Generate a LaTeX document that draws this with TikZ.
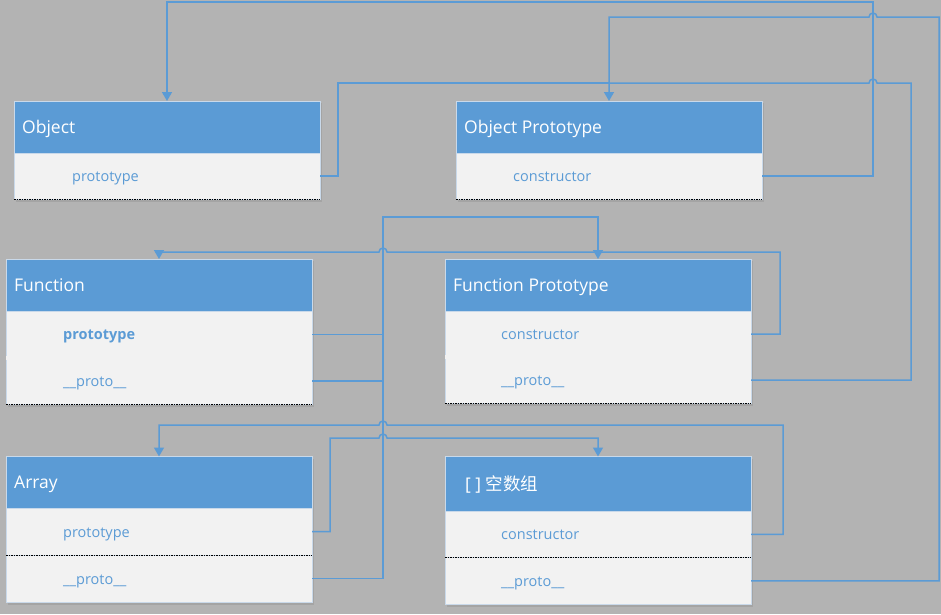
\documentclass[tikz,border=0pt]{standalone}
\usepackage{fontspec}
\setmainfont{Open Sans}
\newfontfamily\cjk{Noto Sans CJK SC}
\usetikzlibrary{arrows.meta}
\definecolor{bg}{HTML}{B3B3B3}
\definecolor{hdrblue}{HTML}{5B9BD5}
\definecolor{bodyfill}{HTML}{F2F2F2}
\definecolor{edge}{HTML}{C9D9EA}
\definecolor{linkblue}{HTML}{5B9BD5}
\begin{document}
\begin{tikzpicture}[x=1pt,y=-1pt,
 hdr/.style={draw=edge, line width=0.6pt, fill=hdrblue, anchor=north west, minimum width=306pt, inner sep=0pt, outer sep=0pt},
 row/.style={draw=edge, line width=0.6pt, fill=bodyfill, anchor=north west, minimum width=306pt, inner sep=0pt, outer sep=0pt},
 htxt/.style={anchor=base west, text=white, font=\fontsize{17.5}{20}\selectfont, inner sep=0pt},
 rtxt/.style={anchor=base west, text=linkblue, font=\fontsize{14.5}{17}\selectfont, inner sep=0pt},
 conn/.style={draw=linkblue, line width=1.5pt, -{Triangle[width=10pt,length=9pt]}},
 link/.style={draw=linkblue, line width=1.5pt},
 sepline/.style={draw=black, line width=0.8pt, dash pattern=on 1.5pt off 1pt},
 shadowbox/.style={fill=black, opacity=0.08}
]
\fill[bg] (0,0) rectangle (941,614);
\useasboundingbox (0,0) rectangle (941,614);

% shadows
\fill[shadowbox] (16,103) rectangle (322,202);
\fill[shadowbox] (458,103) rectangle (764,202);
\fill[shadowbox] (8,261) rectangle (314,407);
\fill[shadowbox] (447,261) rectangle (753,406);
\fill[shadowbox] (8,459) rectangle (314,605);
\fill[shadowbox] (447,459) rectangle (753,607);

% Object
\node[hdr, minimum height=52pt] (obj) at (14,101) {};
\node[row, minimum height=46pt] (objR1) at (14,153) {};
\draw[sepline] (objR1.south west) -- (objR1.south east);
\node[htxt] (objT) at ([xshift=8pt,yshift=-6.3pt]obj.west) {Object};
\node[rtxt] (objR1t) at ([xshift=58pt,yshift=-5.7pt]objR1.west) {prototype};

% Object Prototype
\node[hdr, minimum height=52pt] (op) at (456,101) {};
\node[row, minimum height=46pt] (opR1) at (456,153) {};
\draw[sepline] (opR1.south west) -- (opR1.south east);
\node[htxt] (opT) at ([xshift=8pt,yshift=-6.3pt]op.west) {Object Prototype};
\node[rtxt] (opR1t) at ([xshift=57pt,yshift=-5.7pt]opR1.west) {constructor};

% Function
\node[hdr, minimum height=52pt] (fn) at (6,259) {};
\node[row, minimum height=46.5pt] (fnR1) at (6,311) {};
\node[row, minimum height=46.5pt] (fnR2) at (6,357.5) {};
\fill[bodyfill] ([xshift=0.4pt,yshift=2pt]fnR1.south west) rectangle ([xshift=-0.4pt,yshift=-2pt]fnR1.south east);
\draw[sepline] (fnR2.south west) -- (fnR2.south east);
\node[htxt] (fnT) at ([xshift=8pt,yshift=-6.3pt]fn.west) {Function};
\node[rtxt, font=\fontsize{14.5}{17}\selectfont\bfseries] (fnR1t) at ([xshift=57pt,yshift=-5.7pt]fnR1.west) {prototype};
\node[rtxt] (fnR2t) at ([xshift=57pt,yshift=-5.7pt]fnR2.west) {\_\_proto\_\_};

% Function Prototype
\node[hdr, minimum height=52pt] (fp) at (445,259) {};
\node[row, minimum height=46pt] (fpR1) at (445,311) {};
\node[row, minimum height=46pt] (fpR2) at (445,357) {};
\fill[bodyfill] ([xshift=0.4pt,yshift=2pt]fpR1.south west) rectangle ([xshift=-0.4pt,yshift=-2pt]fpR1.south east);
\draw[sepline] (fpR2.south west) -- (fpR2.south east);
\node[htxt] (fpT) at ([xshift=8pt,yshift=-6.3pt]fp.west) {Function Prototype};
\node[rtxt] (fpR1t) at ([xshift=56pt,yshift=-5.7pt]fpR1.west) {constructor};
\node[rtxt] (fpR2t) at ([xshift=56pt,yshift=-5.7pt]fpR2.west) {\_\_proto\_\_};

% Array
\node[hdr, minimum height=51.5pt] (ar) at (6,456.5) {};
\node[row, minimum height=47pt] (arR1) at (6,508) {};
\node[row, minimum height=47pt] (arR2) at (6,555) {};
\draw[sepline] (arR2.north west) -- (arR2.north east);
\node[htxt] (arT) at ([xshift=8pt,yshift=-6.3pt]ar.west) {Array};
\node[rtxt] (arR1t) at ([xshift=57pt,yshift=-5.7pt]arR1.west) {prototype};
\node[rtxt] (arR2t) at ([xshift=57pt,yshift=-5.7pt]arR2.west) {\_\_proto\_\_};

% [] empty array
\node[hdr, minimum height=54.5pt] (ae) at (445,456.5) {};
\node[row, minimum height=46.5pt] (aeR1) at (445,511) {};
\node[row, minimum height=46.5pt] (aeR2) at (445,557.5) {};
\draw[sepline] (aeR2.north west) -- (aeR2.north east);
\node[htxt] (aeT) at ([xshift=20pt,yshift=-6.3pt]ae.west) {[ ] {\cjk 空数组}};
\node[rtxt] (aeR1t) at ([xshift=56pt,yshift=-5.7pt]aeR1.west) {constructor};
\node[rtxt] (aeR2t) at ([xshift=56pt,yshift=-5.7pt]aeR2.west) {\_\_proto\_\_};

% connectors
\draw[conn] (opR1.east) -| (873,2) -| (obj.north);
\draw[conn] (aeR2.east) -| (939,17) -- (877,17) arc[start angle=0,end angle=180,radius=4pt] -| (op.north);
\draw[link] (fpR2.east) -| (911,83) -- (877,83) arc[start angle=0,end angle=180,radius=4pt] -- (op.north |- 0,83);
\draw[link] (objR1.east) -- ++(18,0) |- (op.north |- 0,83);
\draw[conn] (fpR1.east) -| (780,252) -- (387,252) arc[start angle=0,end angle=180,radius=4pt] -| (fn.north);
\draw[conn] (arR2.east) -| (383,217) -| (fp.north);
\draw[link] (fnR1.east) -- (fnR1.east -| 383,0);
\draw[link] (fnR2.east) -- (fnR2.east -| 383,0);
\draw[conn] (aeR1.east) -| (783,425) -- (387,425) arc[start angle=0,end angle=180,radius=4pt] -| (ar.north);
\draw[conn] (arR1.east) -- ++(18,0) |- (379,438) arc[start angle=180,end angle=0,radius=4pt] -| (ae.north);
\end{tikzpicture}
\end{document}
